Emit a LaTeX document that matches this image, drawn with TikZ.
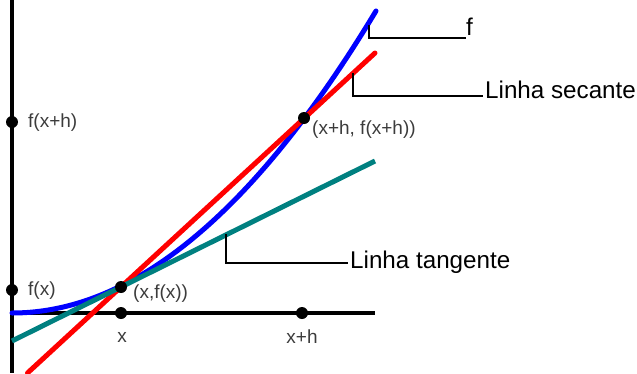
\documentclass[tikz,border=0pt]{standalone}
\usepackage{fontspec}
\setmainfont{Liberation Sans}
\definecolor{tealc}{RGB}{0,128,128}
\definecolor{txtgray}{RGB}{60,60,60}
\begin{document}
\begin{tikzpicture}[x=1pt,y=-1pt,
  axis/.style={line width=4pt,black},
  curve/.style={line width=5pt,line cap=round},
  dot/.style={circle,fill=black,inner sep=0pt,minimum size=12pt},
  small/.style={font=\fontsize{19}{21}\selectfont,text=txtgray,inner sep=0pt},
  big/.style={font=\fontsize{24.2}{28}\selectfont,text=black,inner sep=0pt,anchor=base west},
  leader/.style={line width=1.5pt,black}]
\useasboundingbox (0,0) rectangle (637,373);
% axes
\coordinate (Vt) at (12,0);
\coordinate (Vb) at (12,373);
\coordinate (O) at (12,313);
\coordinate (He) at (375,313);
\draw[axis] (Vt) -- (Vb);
\draw[axis] (O) -- (He);
% function
\draw[curve,blue] plot[domain=12:376,samples=80] (\x,{313-300.4*((\x-12)/363)^2});
% secant
\coordinate (Sa) at (27.5,373);
\coordinate (Sb) at (375,53);
\draw[curve,red] (Sa) -- (Sb);
% tangent
\coordinate (Ta) at (12,341);
\coordinate (Tb) at (375,161);
\draw[line width=5pt,tealc] (Ta) -- (Tb);
% dots
\node[dot] (A) at (121,287) {};
\node[dot] (B) at (304,118) {};
\node[dot] (X) at (121,313) {};
\node[dot] (XH) at (302,313) {};
\node[dot] (FX) at (12,290) {};
\node[dot] (FXH) at (12,122) {};
% small labels
\node[small,anchor=west] (lfxh) at (28,123) {f(x+h)};
\node[small,anchor=west] (lfx) at (28,291) {f(x)};
\node[small,anchor=west] (lA) at (133,294) {(x,f(x))};
\node[small,anchor=west] (lB) at (312,130) {(x+h, f(x+h))};
\node[small] (lx) at (122,337) {x};
\node[small] (lxh) at (302,337) {x+h};
% big labels with leaders
\node[big] (lf) at (466,35) {f};
\node[big] (ls) at (485,98) {Linha secante};
\node[big] (lt) at (350,268) {Linha tangente};
\coordinate (cf) at (369,25);
\coordinate (cs) at (353,73);
\coordinate (ct) at (226,234);
\draw[leader] (cf) |- ([yshift=-3pt]lf.base west);
\draw[leader] (cs) |- ([yshift=2pt,xshift=-2pt]ls.base west);
\draw[leader] (ct) |- ([yshift=5pt,xshift=-2pt]lt.base west);
\end{tikzpicture}
\end{document}
